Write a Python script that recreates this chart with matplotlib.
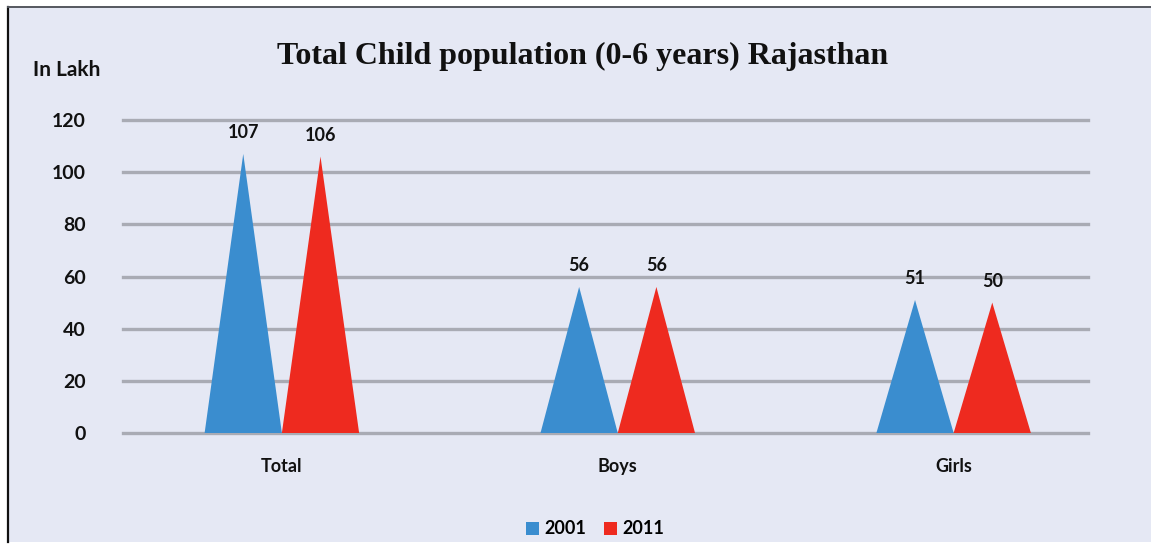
import matplotlib
matplotlib.use("Agg")
import matplotlib.pyplot as plt
from matplotlib.patches import Rectangle, Patch
from matplotlib.lines import Line2D

categories = ["Total", "Boys", "Girls"]
years = ["2001", "2011"]
values_2001 = [107, 56, 51]
values_2011 = [106, 56, 50]
yticks = [0, 20, 40, 60, 80, 100, 120]

c2001 = "#3a8dcf"
c2011 = "#ee2a1f"
bg = "#e5e8f4"
grid_c = "#a9abb4"

W, H = 1151, 546
fig = plt.figure(figsize=(W / 100, H / 100), dpi=100, facecolor="white")

# panel background and frame
fig.patches.append(Rectangle((8 / W, 1 - 542 / H), (W - 8) / W, (542 - 7) / H,
                             transform=fig.transFigure, facecolor=bg,
                             edgecolor="none", zorder=-5))
fig.lines.append(Line2D([8 / W, 8 / W], [1 - 542 / H, 1 - 7 / H],
                        transform=fig.transFigure, color="#111111", lw=1.6, zorder=-4))
fig.lines.append(Line2D([8 / W, 1], [1 - 7 / H, 1 - 7 / H],
                        transform=fig.transFigure, color="#55585f", lw=1.4, zorder=-4))

ax = fig.add_axes([123 / W, 1 - 433 / H, (1088 - 123) / W, (433 - 120) / H])
ax.set_zorder(3)
ax.set_facecolor("none")
ax.set_xlim(-0.473, 2.400)
ax.set_ylim(0, 120)

tfont = "Lato"
half = 0.115
for i, cat in enumerate(categories):
    for v, off, col in ((values_2001[i], -half, c2001), (values_2011[i], half, c2011)):
        cx = i + off
        ax.fill([cx - half, cx, cx + half], [0, v, 0], color=col, lw=0, zorder=3)
        ax.annotate(str(v), (cx, v), xytext=(0, 9), textcoords="offset points",
                    ha="center", va="bottom", fontsize=13, fontweight="bold",
                    family=tfont, color="#111111")

for y in yticks:
    ax.axhline(y, color=grid_c, lw=2.4, zorder=1, clip_on=False)

ax.set_yticks(yticks)
ax.set_yticklabels([str(t) for t in yticks], fontsize=14, fontweight="bold",
                   family=tfont, color="#111111")
ax.tick_params(axis="y", length=0, pad=27)
ax.set_xticks(range(len(categories)))
ax.set_xticklabels(categories, fontsize=13, fontweight="bold", family=tfont,
                   color="#111111")
ax.tick_params(axis="x", length=0, pad=18)
for s in ax.spines.values():
    s.set_visible(False)

fig.text(67 / W, 1 - 70 / H, "In Lakh", ha="center", va="center", fontsize=15,
         fontweight="bold", family=tfont, color="#111111")
fig.text(583 / W, 1 - 56 / H, "Total Child population (0-6 years) Rajasthan",
         ha="center", va="center", fontsize=23, fontweight="bold",
         family="Liberation Serif", color="#111111")

handles = [Patch(facecolor=c2001, label=years[0]), Patch(facecolor=c2011, label=years[1])]
fig.legend(handles=handles, loc="center", bbox_to_anchor=(595 / W, 1 - 529 / H),
           ncol=2, frameon=False, handlelength=0.7, handleheight=0.7,
           handletextpad=0.3, columnspacing=1.0,
           prop={"family": tfont, "weight": "bold", "size": 13})

fig.savefig("out.png", dpi=100, facecolor="white")
